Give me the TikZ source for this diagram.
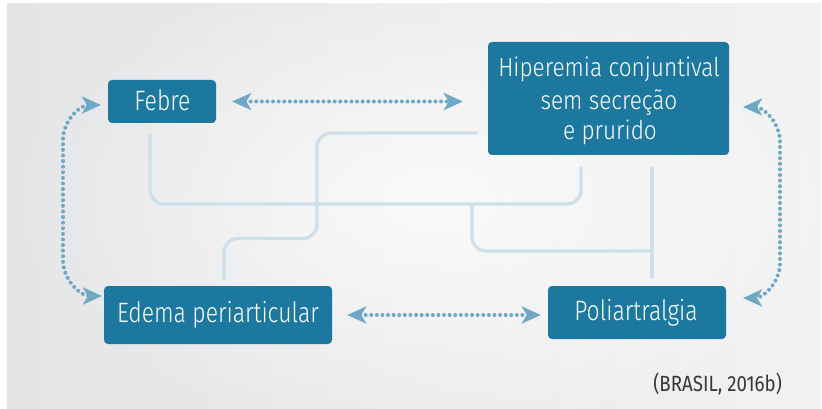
\documentclass[tikz,border=0pt]{standalone}
\usepackage{fontspec}
\newcommand{\usefam}[3]{\setmainfont{#1}[FakeStretch=#2]\newfontfamily\hipfont{#1}[FakeStretch=#3]}
\IfFontExistsTF{Fira Sans Light}{\usefam{Fira Sans Light}{0.82}{0.87}}{%
 \IfFontExistsTF{Lato Light}{\usefam{Lato Light}{0.86}{0.91}}{%
  \IfFontExistsTF{Open Sans Light}{\usefam{Open Sans Light}{0.78}{0.83}}{%
   \IfFontExistsTF{Noto Sans Light}{\usefam{Noto Sans Light}{0.78}{0.83}}{%
    \usefam{Fira Sans}{0.82}{0.87}}}}}
\newfontfamily\capfont{Fira Sans}[FakeStretch=0.85]
\usetikzlibrary{arrows.meta,fadings}
\tikzfading[name=glowfade, inner color=transparent!0, outer color=transparent!100]
\definecolor{boxblue}{RGB}{29,120,160}
\definecolor{dotblue}{RGB}{111,168,197}
\definecolor{linkgray}{RGB}{205,224,233}
\definecolor{bgleft}{RGB}{227,228,230}
\definecolor{bgright}{RGB}{242,242,243}
\definecolor{captext}{RGB}{55,55,55}
\begin{document}
\begin{tikzpicture}[x=1pt,y=-1pt,
  box/.style={draw=none, fill=boxblue, rounded corners=4pt, inner sep=0pt},
  lbl/.style={text=white, font=\fontsize{28}{31}\selectfont, inner sep=0pt, anchor=base},
  lblsmall/.style={lbl, font=\hipfont\fontsize{26}{31}\selectfont},
  link/.style={draw=linkgray, line width=3.3pt, line cap=round, rounded corners=14pt},
  dotarrow/.style={draw=dotblue, line width=4pt, line cap=round, dash pattern=on 0pt off 5.6pt,
    {Stealth[length=19pt,width=17pt,inset=5pt]}-{Stealth[length=19pt,width=17pt,inset=5pt]}},
]
\useasboundingbox (0,0) rectangle (822,409);
\fill[white] (0,0) rectangle (822,409);
\shade[left color=bgleft, right color=bgright] (7,4) rectangle (821,408);
\fill[white, opacity=0.75, path fading=glowfade] (430,200) ellipse (430 and 240);

% light connector lines
\coordinate (fbot) at (150,135);
\coordinate (hbot) at (581,168);
\coordinate (hleft) at (477,133);
\coordinate (etop) at (224,279);
\coordinate (tj) at (472,204);
\coordinate (tk) at (652,251);
\coordinate (ptop) at (652,277);
\coordinate (hbot2) at (652,168);
\draw[link] (fbot) -- (150,204) -- (581,204) -- (hbot);
\draw[link] (hleft) -- (317,133) -- (317,238.5) -- (224,238.5) -- (etop);
\draw[link] (tj) -- (472,251) -- (tk);
\draw[link] (hbot2) -- (ptop);

% boxes
\node[box, minimum width=108pt, minimum height=43pt] (febre) at (162,101.5) {};
\node[box, minimum width=241pt, minimum height=113pt] (hip) at (608.5,98.5) {};
\node[box, minimum width=228pt, minimum height=58pt] (edema) at (218,315) {};
\node[box, minimum width=178pt, minimum height=53pt] (poli) at (637,312.5) {};

% texts
\node[lbl] (tfebre) at (162.5,110.5) {Febre};
\node[lblsmall] (th1) at (609,77) {Hiperemia conjuntival};
\node[lblsmall] (th2) at (609,109.5) {sem secreção};
\node[lblsmall] (th3) at (610,140) {e prurido};
\node[lbl] (tedema) at (218,322) {Edema periarticular};
\node[lbl] (tpoli) at (636,320) {Poliartralgia};
\node[anchor=base east, inner sep=0pt, text=captext, font=\capfont\fontsize{22}{25}\selectfont] (cap) at (782,391) {(BRASIL, 2016b)};

% dotted arrows
\draw[dotarrow, shorten <=16pt, shorten >=25pt] (febre.east) -- (febre.east -| hip.west);
\draw[dotarrow, shorten <=15pt, shorten >=7pt] (edema.east) -- (edema.east -| poli.west);
\coordinate (lt) at (101,105);
\coordinate (lb) at (102,296);
\coordinate (rt) at (743,107);
\coordinate (rb) at (743,298);
\draw[dotarrow] (lt) to[out=180,in=90] (63,140) -- (63,260) to[out=-90,in=180] (lb);
\draw[dotarrow] (rt) to[out=0,in=90] (780,142) -- (780,263) to[out=-90,in=0] (rb);
\end{tikzpicture}
\end{document}
